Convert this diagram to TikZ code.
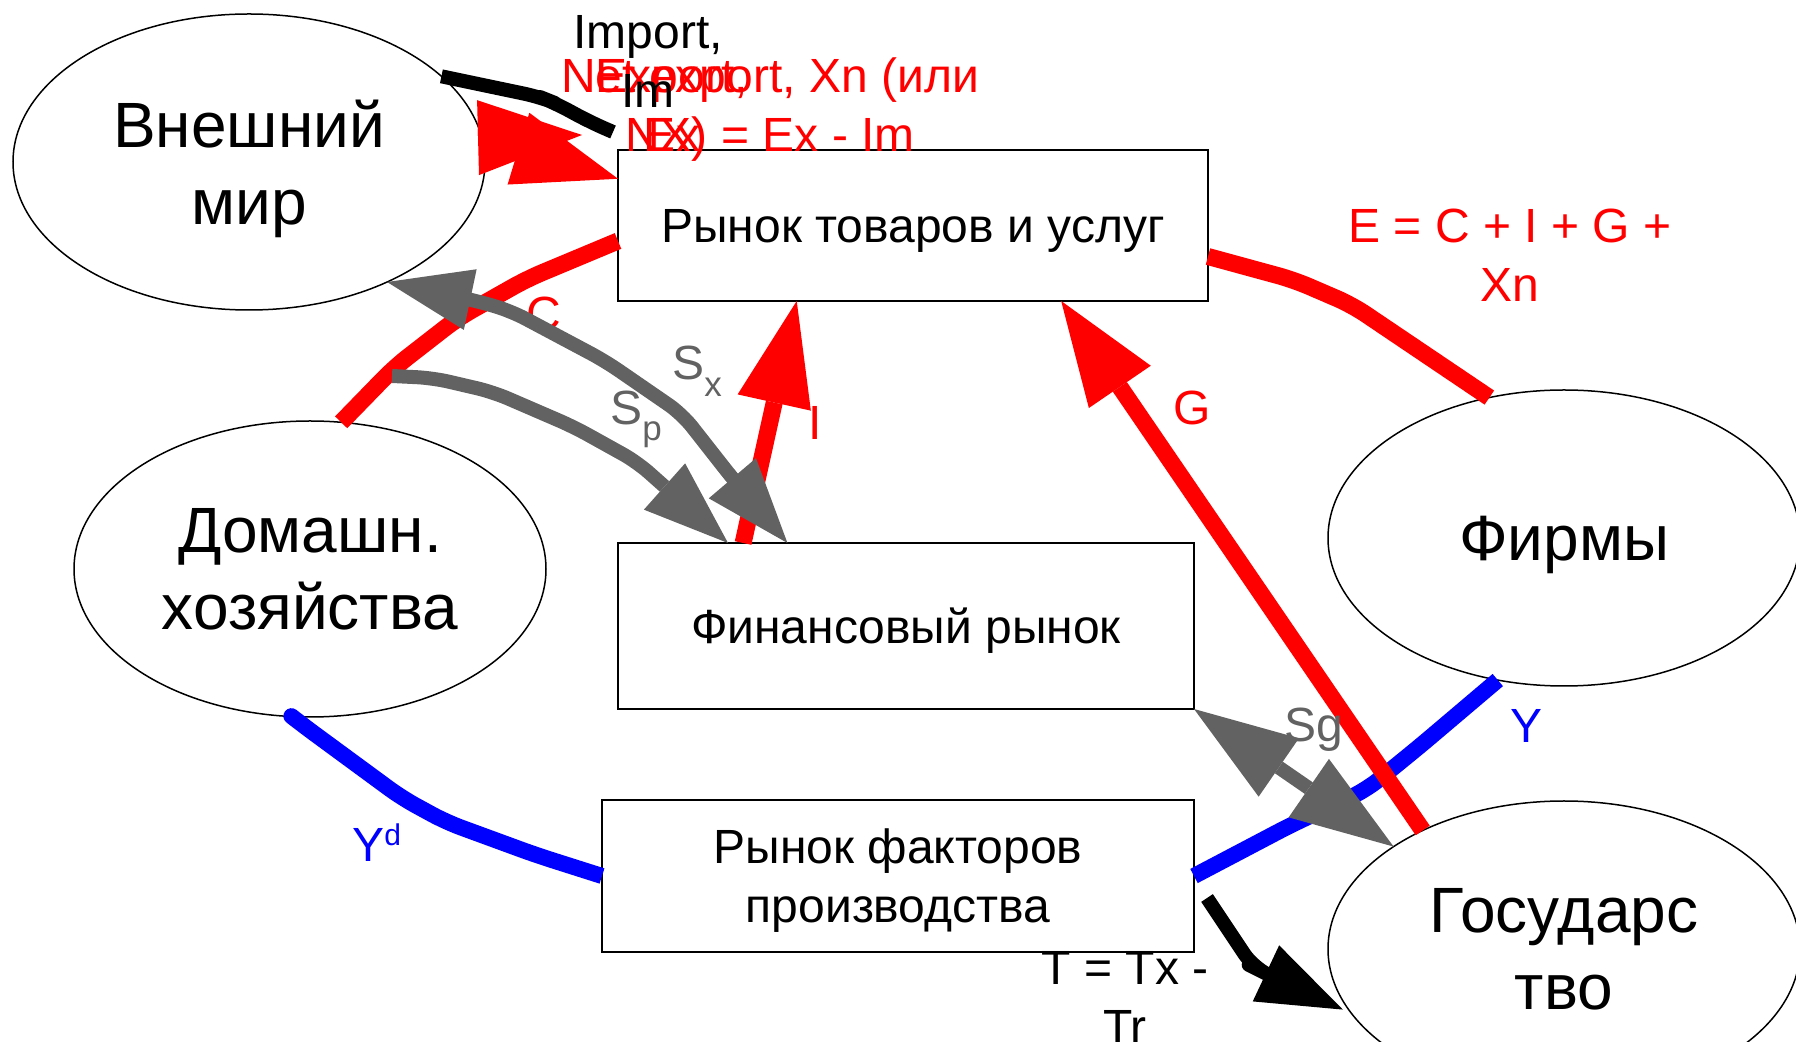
\documentclass[tikz,border=0pt]{standalone}
\usepackage{fontspec}
\setmainfont{Liberation Sans}
\usetikzlibrary{arrows.meta, shapes.geometric}

\definecolor{flowred}{RGB}{255,0,0}
\definecolor{flowblue}{RGB}{0,0,255}
\definecolor{flowgray}{RGB}{98,98,98}

\tikzset{
  agent/.style={draw, ellipse, fill=white, line width=0.75pt, inner sep=0pt, outer sep=0pt,
    minimum width=236pt, minimum height=148pt, align=center, text depth=0pt,
    font=\fontsize{32}{38.5}\selectfont},
  market/.style={draw, rectangle, fill=white, line width=0.75pt, inner sep=0pt, outer sep=0pt,
    align=center, text depth=0pt, font=\fontsize{24}{29.5}\selectfont},
  flowlabel/.style={inner sep=0pt, font=\fontsize{24}{29.5}\selectfont},
  flowline/.style={line width=#1, rounded corners=8pt, line join=round},
  redflow/.style={flowline=8.5pt, draw=flowred},
  blueflow/.style={flowline=8pt, draw=flowblue},
  grayflow/.style={flowline=7pt, draw=flowgray},
  blackflow/.style={flowline=7pt, draw=black},
  HeadL/.tip={Triangle[length=52pt, width=37.5pt, line width=0pt]},
  HeadM/.tip={Triangle[length=51.5pt, width=35.5pt, line width=0pt]},
  HeadS/.tip={Triangle[length=42.5pt, width=31pt, line width=0pt]},
}

\begin{document}
\begin{tikzpicture}[x=0.5pt, y=-0.5pt]
  \useasboundingbox (0,0) rectangle (1796,1042);
  \clip (0,0) rectangle (1796,1042);

  % Agents
  \node[agent] (world) at (249,162) {Внешний\\мир};
  \node[agent] (hh) at (310,569) {Домашн.\\хозяйства};
  \node[agent] (firms) at (1564,538) {Фирмы};
  \node[agent] (state) at (1564,949) {Государс\\тво};

  % Markets
  \node[market, minimum width=295pt, minimum height=75.5pt] (goods) at (913,225.5) {Рынок товаров и услуг};
  \node[market, minimum width=288pt, minimum height=83pt] (fin) at (906,626) {Финансовый рынок};
  \node[market, minimum width=296pt, minimum height=76pt] (factors) at (898,876) {Рынок факторов\\производства};

  % Free ends
  \coordinate (imEnd) at (613,132);
  \coordinate (exTip) at (582,135);
  \coordinate (spStart) at (392,376);
  \coordinate (tStart) at (1207,898);

  % Income flows
  \draw[blueflow] (firms.245) -- (1420,746) -- (1366,790) -- (1291,825) -- (factors.east);
  \draw[blueflow] (hh.263) -- (304,726) -- (402,798) -- (446,822) -- (536,855) -- (factors.west);

  % Spending flows
  \draw[redflow] (hh.78) -- (395,367) -- (458,318) -- (527,279) -- (goods.183.4);
  \draw[redflow] (firms.118) -- (1352,305) -- (1294,280) -- (goods.-6.3);
  \draw[redflow, -{HeadL}] (state.140.7) -- (goods.-27.5);
  \draw[redflow, -{HeadL}] (fin.153.6) -- (goods.213.3);
  \draw[redflow, -{HeadL}] (world.6.6) -- (exTip);
  \draw[redflow, -{HeadL}] (world.6.6) -- (goods.171);
  \node[flowlabel, text=flowred] (lblC) at (544,314) {C};

  % Savings
  \draw[grayflow, {HeadS}-{HeadS}] (world.-41) -- (477,301) -- (511,311) -- (605,361) -- (682,414) -- (733,479) -- (fin.145.8);
  \draw[grayflow, -{HeadS}] (spStart) -- (433,378) -- (493,392) -- (574,427) -- (637,462) -- (fin.155.6);
  \draw[grayflow, {HeadM}-{HeadM}] (fin.south east) -- (state.149.4);

  % Import and taxes
  \draw[blackflow] (world.24) -- (540,97) -- (555,103) -- (590,122) -- (imEnd);
  \draw[blackflow, -{HeadS}, shorten >=5pt] (tStart) -- (1253,967) -- (1263,972) -- (state.197);

  % Labels
  \node[flowlabel, align=center, text=flowred] (lblNx) at (770,110) {Net export, Xn (или\\NX) = Ex - Im};
  \node[flowlabel, align=center, text=flowred] (lblEx) at (672,105) {Export,\\Ex};
  \node[flowlabel, align=center] (lblIm) at (648,61) {Import,\\Im};
  \node[flowlabel, align=center, text=flowred] (lblE) at (1510,255) {E = C + I + G +\\Xn};
  \node[flowlabel, text=flowred] (lblI) at (815,423) {I};
  \node[flowlabel, text=flowred] (lblG) at (1192,408) {G};
  \node[flowlabel, text=flowgray, anchor=base west] (lblSx) at (672,380) {S\raisebox{-8.5pt}{\fontsize{17.5}{17.5}\selectfont x}};
  \node[flowlabel, text=flowgray, anchor=base west] (lblSp) at (610,425) {S\raisebox{-8pt}{\fontsize{17.5}{17.5}\selectfont p}};
  \node[flowlabel, text=flowgray, anchor=base] (lblSg) at (1314,742) {Sg};
  \node[flowlabel, text=flowblue, anchor=base] (lblY) at (1526,743) {Y};
  \node[flowlabel, text=flowblue, anchor=base west] (lblYd) at (352,862) {Y\raisebox{8pt}{\fontsize{15}{15}\selectfont d}};
  \node[flowlabel, align=center] (lblT) at (1125,997) {T = Tx -\\Tr};
\end{tikzpicture}
\end{document}
